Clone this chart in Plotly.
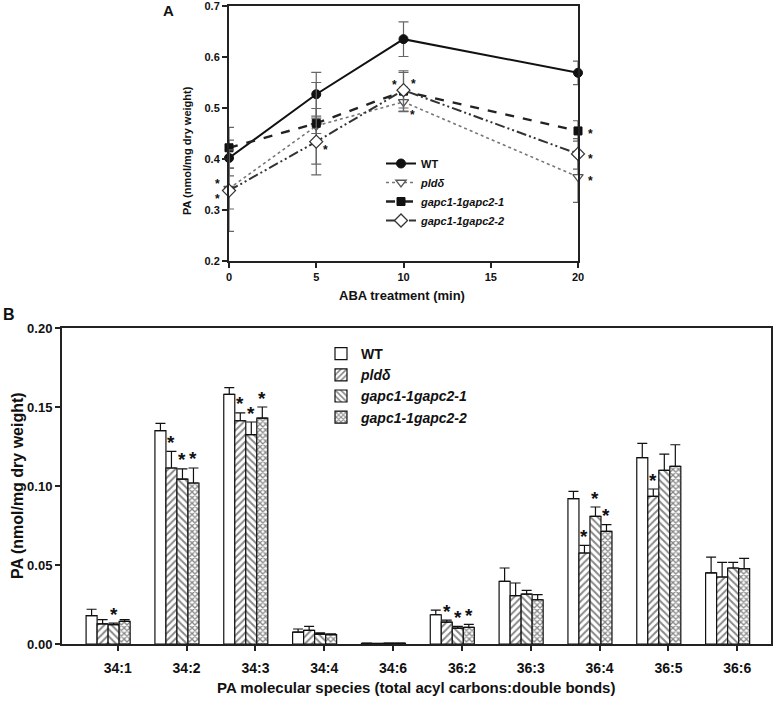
import plotly.graph_objects as go

# ---------------- Panel A data ----------------
TIME = [0, 5, 10, 20]
WT_A = [0.402, 0.527, 0.635, 0.569]
WT_A_ERR = [0.035, 0.043, 0.034, 0.023]
PLD_A = [0.342, 0.465, 0.512, 0.365]
PLD_A_ERR = [0.040, 0.015, 0.018, 0.050]
G1_A = [0.422, 0.470, 0.533, 0.455]
G1_A_ERR = [0.040, 0.080, 0.040, 0.020]
G2_A = [0.338, 0.434, 0.535, 0.410]
G2_A_ERR = [0.080, 0.065, 0.035, 0.030]
# significance flags (per time point)
SIG_PLD_A = [True, False, True, True]
SIG_G1_A = [False, False, True, True]
SIG_G2_A = [True, True, True, True]

# ---------------- Panel B data ----------------
CATS = ["34:1", "34:2", "34:3", "34:4", "34:6", "36:2", "36:3", "36:4", "36:5", "36:6"]
WT_B = [0.0180, 0.1350, 0.1580, 0.0075, 0.0004, 0.0185, 0.0396, 0.0920, 0.1180, 0.0450]
WT_B_ERR = [0.0040, 0.0046, 0.0042, 0.0020, 0.0002, 0.0030, 0.0085, 0.0046, 0.0090, 0.0100]
PLD_B = [0.0127, 0.1114, 0.1413, 0.0086, 0.0003, 0.0139, 0.0306, 0.0576, 0.0934, 0.0424]
PLD_B_ERR = [0.0027, 0.0105, 0.0050, 0.0025, 0.0001, 0.0012, 0.0080, 0.0048, 0.0047, 0.0093]
G1_B = [0.0122, 0.1044, 0.1325, 0.0063, 0.0005, 0.0101, 0.0316, 0.0808, 0.1099, 0.0481]
G1_B_ERR = [0.0010, 0.0064, 0.0080, 0.0007, 0.0001, 0.0010, 0.0023, 0.0059, 0.0103, 0.0036]
G2_B = [0.0143, 0.1019, 0.1430, 0.0059, 0.0005, 0.0105, 0.0280, 0.0713, 0.1124, 0.0477]
G2_B_ERR = [0.0011, 0.0095, 0.0070, 0.0005, 0.0001, 0.0019, 0.0032, 0.0042, 0.0137, 0.0065]
SIG_PLD_B = [False, True, True, False, False, True, False, True, True, False]
SIG_G1_B = [True, True, True, False, False, True, False, True, False, False]
SIG_G2_B = [False, True, True, False, False, True, False, True, False, False]

NAMES = ["<b>WT</b>", "<b><i>pld\u03b4</i></b>", "<b><i>gapc1-1gapc2-1</i></b>", "<b><i>gapc1-1gapc2-2</i></b>"]

# ---------------- styling ----------------
W, H = 774, 701
FONT = "Liberation Sans, Arial, sans-serif"
INK = "#111111"
AXC = "#222222"
GROUP_SHIFT = -0.14  # bar groups sit slightly left of their tick marks


def px(x):
    return x / W


def py(y):
    return 1 - y / H


fig = go.Figure()

# ---------- Panel A traces ----------
a_series = [
    (WT_A, WT_A_ERR, dict(color="#111111", width=2, dash="solid"),
     dict(symbol="circle", size=9, color="#111111", line=dict(color="#111111", width=1))),
    (PLD_A, PLD_A_ERR, dict(color="#777777", width=1.6, dash="dot"),
     dict(symbol="triangle-down", size=9, color="white", line=dict(color="#555555", width=1.3))),
    (G1_A, G1_A_ERR, dict(color="#222222", width=2.4, dash="dash"),
     dict(symbol="square", size=8, color="#111111", line=dict(color="#111111", width=1))),
    (G2_A, G2_A_ERR, dict(color="#333333", width=2, dash="10px,3px,2px,3px,2px,3px"),
     dict(symbol="diamond", size=10, color="white", line=dict(color="#333333", width=1.3))),
]
for (vals, errs, line, marker), name in zip(a_series, NAMES):
    fig.add_trace(go.Scatter(
        x=TIME, y=vals, mode="lines+markers", name=name, line=line, marker=marker,
        error_y=dict(type="data", array=errs, visible=True, color="#666666", thickness=1.2, width=5),
        xaxis="x", yaxis="y", legend="legend", cliponaxis=False,
    ))

# ---------- Panel B traces ----------
b_series = [
    (WT_B, WT_B_ERR, dict(color="white", line=dict(color="#111111", width=1.2))),
    (PLD_B, PLD_B_ERR, dict(color="white", line=dict(color="#111111", width=1.2),
                            pattern=dict(shape="/", fgcolor="#111111", bgcolor="white", size=5, solidity=0.4))),
    (G1_B, G1_B_ERR, dict(color="white", line=dict(color="#111111", width=1.2),
                          pattern=dict(shape="\\", fgcolor="#111111", bgcolor="white", size=5, solidity=0.4))),
    (G2_B, G2_B_ERR, dict(color="white", line=dict(color="#111111", width=1.2),
                          pattern=dict(shape="x", fgcolor="#111111", bgcolor="white", size=4, solidity=0.55))),
]
XB = [i + GROUP_SHIFT for i in range(len(CATS))]
for (vals, errs, marker), name in zip(b_series, NAMES):
    fig.add_trace(go.Bar(
        x=XB, y=vals, name=name, marker=marker,
        error_y=dict(type="data", array=errs, arrayminus=[0] * len(errs), symmetric=False,
                     visible=True, color="#111111", thickness=1.2, width=5),
        xaxis="x2", yaxis="y2", legend="legend2",
    ))

annotations = []

# ---------- Panel A stars (pixel offsets from the flagged point) ----------
star_a = [
    (PLD_A, SIG_PLD_A, [(-12, 8), None, (9, -10), (12, -1)]),
    (G1_A, SIG_G1_A, [None, None, (-9, 9), (12, 0)]),
    (G2_A, SIG_G2_A, [(-12, -5), (9, -5), (10, 9), (12, -2)]),
]
for vals, flags, offs in star_a:
    for t, v, f, o in zip(TIME, vals, flags, offs):
        if f and o is not None:
            annotations.append(dict(x=t, y=v, xref="x", yref="y", text="<b>*</b>", showarrow=False,
                                    xanchor="center", yanchor="middle",
                                    xshift=o[0], yshift=o[1] - 3,
                                    font=dict(family=FONT, size=12, color=INK)))

# ---------- Panel B stars (above the error bar) ----------
bar_w = (1 - 0.36) / 4
for k, (vals, errs, flags) in enumerate([(PLD_B, PLD_B_ERR, SIG_PLD_B),
                                          (G1_B, G1_B_ERR, SIG_G1_B),
                                          (G2_B, G2_B_ERR, SIG_G2_B)]):
    off = (k + 1 - 1.5) * bar_w
    for i, (v, e, f) in enumerate(zip(vals, errs, flags)):
        if f:
            annotations.append(dict(x=XB[i] + off, y=v + e, xref="x2", yref="y2", text="<b>*</b>",
                                    showarrow=False, xanchor="center", yanchor="middle", yshift=9,
                                    font=dict(family=FONT, size=19, color=INK)))


def label(x, y, text, size, angle=0):
    return dict(x=px(x), y=py(y), xref="paper", yref="paper", text=text, showarrow=False,
                xanchor="center", yanchor="middle", textangle=angle,
                font=dict(family=FONT, size=size, color=INK))


annotations += [
    label(168, 11, "<b>A</b>", 15),
    label(9, 314, "<b>B</b>", 16),
    label(402, 295, "<b>ABA treatment (min)</b>", 13),
    label(187, 151, "<b>PA (nmol/mg dry weight)</b>", 11, -90),
    label(416, 687, "<b>PA molecular species (total acyl carbons:double bonds)</b>", 15),
    label(17, 486, "<b>PA (nmol/mg dry weight)</b>", 16, -90),
]

axis_common = dict(showline=True, linecolor=AXC, linewidth=2, mirror=True, ticks="outside",
                   ticklen=5, tickwidth=1.5, tickcolor=AXC, showgrid=False, zeroline=False,
                   automargin=False, ticklabeloverflow="allow")

fig.update_layout(
    width=W, height=H, margin=dict(l=0, r=0, t=0, b=0, autoexpand=False),
    paper_bgcolor="white", plot_bgcolor="white",
    font=dict(family=FONT, color=INK),
    barmode="group", bargap=0.36, bargroupgap=0,
    xaxis=dict(domain=[px(229), px(578)], range=[0, 20], tickvals=[0, 5, 10, 15, 20],
               tickfont=dict(family=FONT, size=11, weight="bold", color=INK), anchor="y", **axis_common),
    yaxis=dict(domain=[py(261), py(6)], range=[0.2, 0.7], tickvals=[0.2, 0.3, 0.4, 0.5, 0.6, 0.7],
               tickformat=".1f", tickfont=dict(family=FONT, size=11, weight="bold", color=INK),
               anchor="x", **axis_common),
    xaxis2=dict(domain=[px(62), px(771)], range=[-0.81, 9.49], tickvals=list(range(len(CATS))),
                ticktext=CATS, tickfont=dict(family=FONT, size=14, weight="bold", color=INK),
                ticklabelstandoff=5, anchor="y2", **axis_common),
    yaxis2=dict(domain=[py(644), py(328)], range=[0, 0.2], tickvals=[0, 0.05, 0.10, 0.15, 0.20],
                tickformat=".2f", tickfont=dict(family=FONT, size=13, weight="bold", color=INK),
                anchor="x2", **axis_common),
    legend=dict(x=px(381), y=py(149), xanchor="left", yanchor="top", bgcolor="rgba(0,0,0,0)",
                font=dict(family=FONT, size=11, weight="bold", color=INK), tracegroupgap=0),
    legend2=dict(x=px(321), y=py(338), xanchor="left", yanchor="top", bgcolor="rgba(0,0,0,0)",
                 font=dict(family=FONT, size=14, weight="bold", color=INK), tracegroupgap=0),
    annotations=annotations,
)

fig.write_html("out.html", config={"displayModeBar": False},
               post_script="document.body.style.margin='0';document.body.style.overflow='hidden';")
